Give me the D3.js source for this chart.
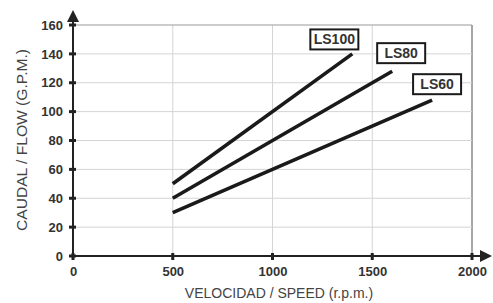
<!DOCTYPE html>
<html>
<head>
<meta charset="utf-8">
<script src="https://cdn.jsdelivr.net/npm/d3@7.9.0/dist/d3.min.js"></script>
<style>
  body { margin: 0; background: #fff; }
  svg { display: block; font-family: "Liberation Sans", Arial, sans-serif; }
</style>
</head>
<body>
<div id="chart"></div>
<script>
// values
const models = ["LS100", "LS80", "LS60"];
const speedStart = [500, 500, 500];
const speedEnd = [1400, 1600, 1800];
const flowStart = [50, 40, 30];
const flowEnd = [140, 128, 108];
const labelSpeed = [1310, 1645, 1825];
const labelFlow = [150, 140.5, 119];
const xTicks = [0, 500, 1000, 1500, 2000];
const yTicks = [0, 20, 40, 60, 80, 100, 120, 140, 160];

const W = 493, H = 303;
const margin = { left: 73, right: 21, top: 25, bottom: 47 };

const svg = d3.select("#chart").append("svg")
    .attr("width", W)
    .attr("height", H);

const x = d3.scaleLinear().domain([0, 2000]).range([margin.left, W - margin.right]);
const y = d3.scaleLinear().domain([0, 160]).range([H - margin.bottom, margin.top]);

// grid
svg.append("g")
    .selectAll("line.v")
    .data(xTicks.slice(1))
    .join("line")
    .attr("x1", d => x(d)).attr("x2", d => x(d))
    .attr("y1", y(0)).attr("y2", y(160))
    .attr("stroke", d => d === 2000 ? "#888" : "#d4d4d4")
    .attr("stroke-width", d => d === 2000 ? 1.5 : 1);

svg.append("g")
    .selectAll("line.h")
    .data(yTicks.slice(1))
    .join("line")
    .attr("x1", x(0)).attr("x2", x(2000))
    .attr("y1", d => y(d)).attr("y2", d => y(d))
    .attr("stroke", d => d === 160 ? "#999" : "#d4d4d4")
    .attr("stroke-width", 1);

// axes
const xAxis = svg.append("g")
    .attr("transform", `translate(0,${y(0)})`)
    .call(d3.axisBottom(x).tickValues(xTicks).tickSize(0).tickPadding(11).tickFormat(d3.format("d")));
xAxis.select(".domain").remove();
xAxis.selectAll("text").attr("font-size", 13).attr("font-weight", "bold").attr("fill", "#333");

const yAxis = svg.append("g")
    .attr("transform", `translate(${x(0)},0)`)
    .call(d3.axisLeft(y).tickValues(yTicks).tickSize(0).tickPadding(10));
yAxis.select(".domain").remove();
yAxis.selectAll("text").attr("font-size", 13).attr("font-weight", "bold").attr("fill", "#333");

// tick marks
svg.append("g").selectAll("rect")
    .data(xTicks)
    .join("rect")
    .attr("x", d => x(d) - 1.5).attr("y", y(0) - 3)
    .attr("width", 3).attr("height", 7)
    .attr("fill", "#222");
svg.append("g").selectAll("rect")
    .data(yTicks)
    .join("rect")
    .attr("x", x(0) - 4).attr("y", d => y(d) - 1.5)
    .attr("width", 7).attr("height", 3)
    .attr("fill", "#222");

// axis lines with arrows
svg.append("line")
    .attr("x1", x(0)).attr("x2", W - 8)
    .attr("y1", y(0)).attr("y2", y(0))
    .attr("stroke", "#222").attr("stroke-width", 2);
svg.append("path")
    .attr("d", `M${W - 1},${y(0)} L${W - 13},${y(0) - 6} L${W - 13},${y(0) + 6} Z`)
    .attr("fill", "#222");
svg.append("line")
    .attr("x1", x(0)).attr("x2", x(0))
    .attr("y1", y(0) + 3).attr("y2", 18)
    .attr("stroke", "#222").attr("stroke-width", 2);
svg.append("path")
    .attr("d", `M${x(0)},${10} L${x(0) - 6},${22} L${x(0) + 6},${22} Z`)
    .attr("fill", "#222");

// series lines
const line = d3.line().x(d => x(d[0])).y(d => y(d[1]));
svg.append("g").selectAll("path")
    .data(models.map((m, i) => [[speedStart[i], flowStart[i]], [speedEnd[i], flowEnd[i]]]))
    .join("path")
    .attr("d", line)
    .attr("fill", "none")
    .attr("stroke", "#1a1a1a")
    .attr("stroke-width", 3.6);

// model labels
const lab = svg.append("g").selectAll("g")
    .data(models)
    .join("g")
    .attr("transform", (d, i) => `translate(${x(labelSpeed[i])},${y(labelFlow[i])})`);
lab.append("rect")
    .attr("x", -24).attr("y", -10)
    .attr("width", 48).attr("height", 20)
    .attr("fill", "#fff")
    .attr("stroke", "#1a1a1a")
    .attr("stroke-width", 2);
lab.append("text")
    .attr("text-anchor", "middle")
    .attr("dy", "0.36em")
    .attr("font-size", 14)
    .attr("font-weight", "bold")
    .attr("fill", "#333")
    .text(d => d);

// axis titles
svg.append("text")
    .attr("x", 279).attr("y", 298)
    .attr("text-anchor", "middle")
    .attr("font-size", 14)
    .attr("fill", "#444")
    .text("VELOCIDAD / SPEED (r.p.m.)");
svg.append("text")
    .attr("transform", "translate(27,140) rotate(-90)")
    .attr("text-anchor", "middle")
    .attr("font-size", 14)
    .attr("textLength", 182)
    .attr("lengthAdjust", "spacingAndGlyphs")
    .attr("fill", "#444")
    .text("CAUDAL / FLOW (G.P.M.)");
</script>
</body>
</html>
